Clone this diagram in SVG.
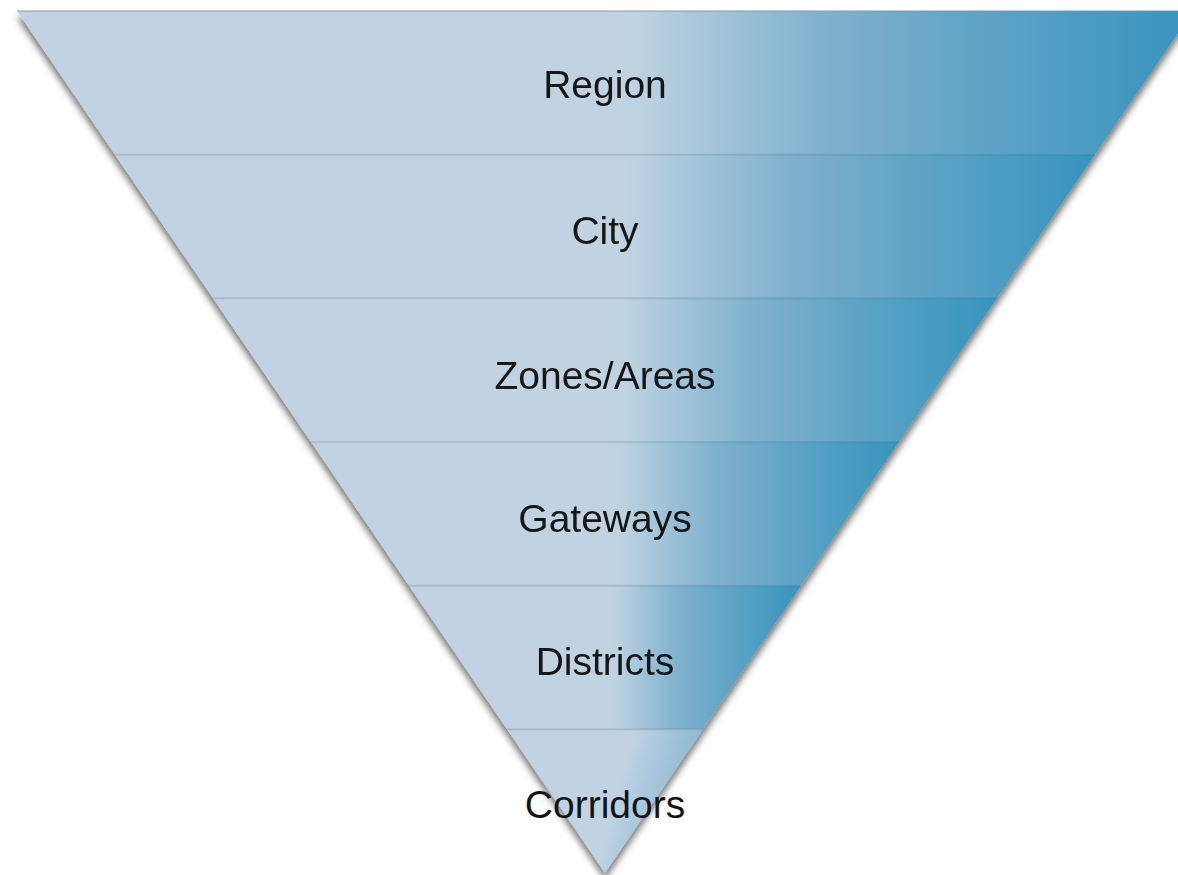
<svg xmlns="http://www.w3.org/2000/svg" width="1178" height="875" viewBox="0 0 1178 875">
<style>
.lbl{font-family:"Liberation Sans","Arial",sans-serif;font-size:39px;fill:#141414;text-anchor:middle}
.sep{stroke:#3c5a78;stroke-opacity:0.16;stroke-width:2;fill:none}
</style>
<defs>
<linearGradient id="g" x1="0" y1="0.5" x2="1" y2="0.5">
<stop offset="0" stop-color="#c1d3e2"/>
<stop offset="0.5" stop-color="#c1d3e2"/>
<stop offset="0.53" stop-color="#bdd2e1"/>
<stop offset="0.6" stop-color="#a0c3d9"/>
<stop offset="0.68" stop-color="#82b2ce"/>
<stop offset="0.82" stop-color="#5ea4c6"/>
<stop offset="1" stop-color="#3794be"/>
</linearGradient>
<linearGradient id="g6" x1="0" y1="0.4" x2="1" y2="0.6">
<stop offset="0" stop-color="#c1d3e2"/>
<stop offset="0.55" stop-color="#c1d3e2"/>
<stop offset="0.62" stop-color="#b4cde0"/>
<stop offset="1" stop-color="#7fb0cd"/>
</linearGradient>
<filter id="sh" x="-5%" y="-5%" width="110%" height="110%">
<feDropShadow dx="0" dy="6" stdDeviation="3.5" flood-color="#000" flood-opacity="0.55"/>
</filter>
</defs>
<g filter="url(#sh)">
<g id="band1"><polygon points="17,11 1193,11 1095,154.7 115,154.7" fill="url(#g)"/><text class="lbl" x="605" y="98">Region</text></g>
<g id="band2"><polygon points="115,154.7 1095,154.7 997,298.3 213,298.3" fill="url(#g)"/><text class="lbl" x="605" y="244">City</text></g>
<g id="band3"><polygon points="213,298.3 997,298.3 899,442 311,442" fill="url(#g)"/><text class="lbl" x="605" y="389">Zones/Areas</text></g>
<g id="band4"><polygon points="311,442 899,442 801,585.7 409,585.7" fill="url(#g)"/><text class="lbl" x="605" y="532">Gateways</text></g>
<g id="band5"><polygon points="409,585.7 801,585.7 703,729.3 507,729.3" fill="url(#g)"/><text class="lbl" x="605" y="675">Districts</text></g>
<g id="band6"><polygon points="507,729.3 703,729.3 605,873" fill="url(#g6)"/></g>
</g>
<g id="connectors">
<line class="sep" x1="115" y1="154.7" x2="1095" y2="154.7"/>
<line class="sep" x1="213" y1="298.3" x2="997" y2="298.3"/>
<line class="sep" x1="311" y1="442" x2="899" y2="442"/>
<line class="sep" x1="409" y1="585.7" x2="801" y2="585.7"/>
<line class="sep" x1="507" y1="729.3" x2="703" y2="729.3"/>
<line x1="17" y1="11" x2="1178" y2="11" stroke="#8a8f96" stroke-opacity="0.6" stroke-width="1.5"/>
</g>
<text class="lbl" x="605" y="818">Corridors</text>
</svg>
